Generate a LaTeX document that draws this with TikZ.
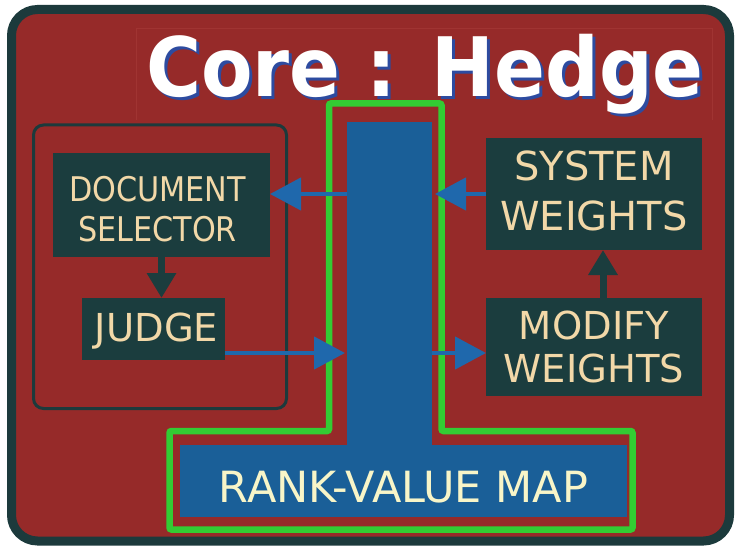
\documentclass[tikz,border=0pt]{standalone}
\usepackage{fontspec}
\setmainfont{DejaVu Sans}
\newfontfamily\narrowfont[FakeStretch=0.89]{DejaVu Sans}
\newfontfamily\titlefont[FakeStretch=0.915]{DejaVu Sans}
\usetikzlibrary{arrows.meta,positioning}
\definecolor{bgred}{RGB}{150,42,41}
\definecolor{faintred}{RGB}{160,52,50}
\definecolor{framedark}{RGB}{28,58,60}
\definecolor{boxdark}{RGB}{27,61,62}
\definecolor{pillarblue}{RGB}{26,95,152}
\definecolor{arrowblue}{RGB}{31,104,172}
\definecolor{tgreen}{RGB}{51,204,51}
\definecolor{cream}{RGB}{242,216,168}
\definecolor{rankcream}{RGB}{248,245,200}
\definecolor{shadowblue}{RGB}{45,75,160}
\tikzset{
  darkbox/.style={fill=boxdark, draw=none, inner sep=0pt, outer sep=0pt},
  bluebox/.style={fill=pillarblue, draw=none, inner sep=0pt, outer sep=0pt},
  boxtext/.style={text=cream, align=center, inner sep=0pt},
  bluearrow/.style={draw=arrowblue, line width=4.5pt, -{Triangle[length=31pt,width=32pt]}},
  darkarrow/.style={draw=boxdark, line width=7pt, -{Triangle[length=25pt,width=28pt]}},
}
\newcommand{\shadowed}[1]{\makebox[0pt][l]{\hspace{3pt}\raisebox{-3pt}{\color{shadowblue}#1}}#1}
\begin{document}
\begin{tikzpicture}[x=1pt,y=-1pt]
\useasboundingbox (0,0) rectangle (736,548);
\fill[white] (0,0) rectangle (736,548);
% outer frame
\draw[framedark, line width=9pt, fill=bgred, rounded corners=26pt] (11.5,9.5) rectangle (729.5,541);
% faint title panel
\draw[faintred, line width=0.8pt] (136,120) -- (136,28) -- (712,28) -- (712,120);
% title with shadow
\node[anchor=base west, inner sep=0pt, text=white, font=\titlefont\bfseries\fontsize{82}{82}\selectfont] (title) at (146,97) {\shadowed{Core : Hedge}};
% green T outline
\draw[tgreen, line width=6.5pt, rounded corners=2pt] (329,103.5) -- (441.5,103.5) -- (441.5,431) -- (632.5,431) -- (632.5,529.5) -- (169.5,529.5) -- (169.5,431) -- (329,431) -- cycle;
% blue pillar and rank box
\node[bluebox, minimum width=85pt, minimum height=325pt] (pillar) at (389.5,284.5) {};
\node[bluebox, minimum width=447pt, minimum height=72pt] (rank) at (403.5,481) {};
\node[text=rankcream, inner sep=0pt, font=\fontsize{43}{43}\selectfont] (ranktext) at ([yshift=-6.5pt]rank.center) {RANK-VALUE MAP};
% left group
\draw[framedark, line width=3pt, rounded corners=10pt] (33.5,125) rectangle (286.5,408.5);
\node[darkbox, minimum width=217pt, minimum height=104pt] (doc) at (161.5,205) {};
\node[boxtext, font=\narrowfont\fontsize{34}{40}\selectfont] (doctext) at ([xshift=-4pt,yshift=-4.5pt]doc.center) {DOCUMENT\\SELECTOR};
\node[darkbox, minimum width=143pt, minimum height=62pt] (judge) at (153.5,329) {};
\node[boxtext, font=\fontsize{38.5}{40}\selectfont] (judgetext) at ([xshift=3pt,yshift=-2pt]judge.center) {JUDGE};
% right side
\node[darkbox, minimum width=216pt, minimum height=112pt] (sys) at (594,194) {};
\node[boxtext, font=\fontsize{40}{50}\selectfont] (systext) at ([yshift=3pt]sys.center) {SYSTEM\\WEIGHTS};
\node[darkbox, minimum width=216pt, minimum height=98pt] (mod) at (594,347) {};
\node[boxtext, font=\fontsize{38.5}{43}\selectfont] (modtext) at (mod.center) {MODIFY\\WEIGHTS};
% dark arrows
\draw[darkarrow] (doc.south) -- (judge.north -| doc.south);
\draw[darkarrow] ([xshift=9pt]mod.north) -- ([xshift=9pt]sys.south);
% blue arrows
\coordinate (ja) at ([yshift=-24pt]judge.east);
\draw[bluearrow] (pillar.west |- sys.west) -- (doc.east |- sys.west);
\draw[bluearrow] (sys.west) -- ([xshift=3pt]pillar.east |- sys.west);
\draw[bluearrow] (ja) -- ([xshift=-2pt]pillar.west |- ja);
\draw[bluearrow] (pillar.east |- ja) -- (mod.west |- ja);
\end{tikzpicture}
\end{document}
